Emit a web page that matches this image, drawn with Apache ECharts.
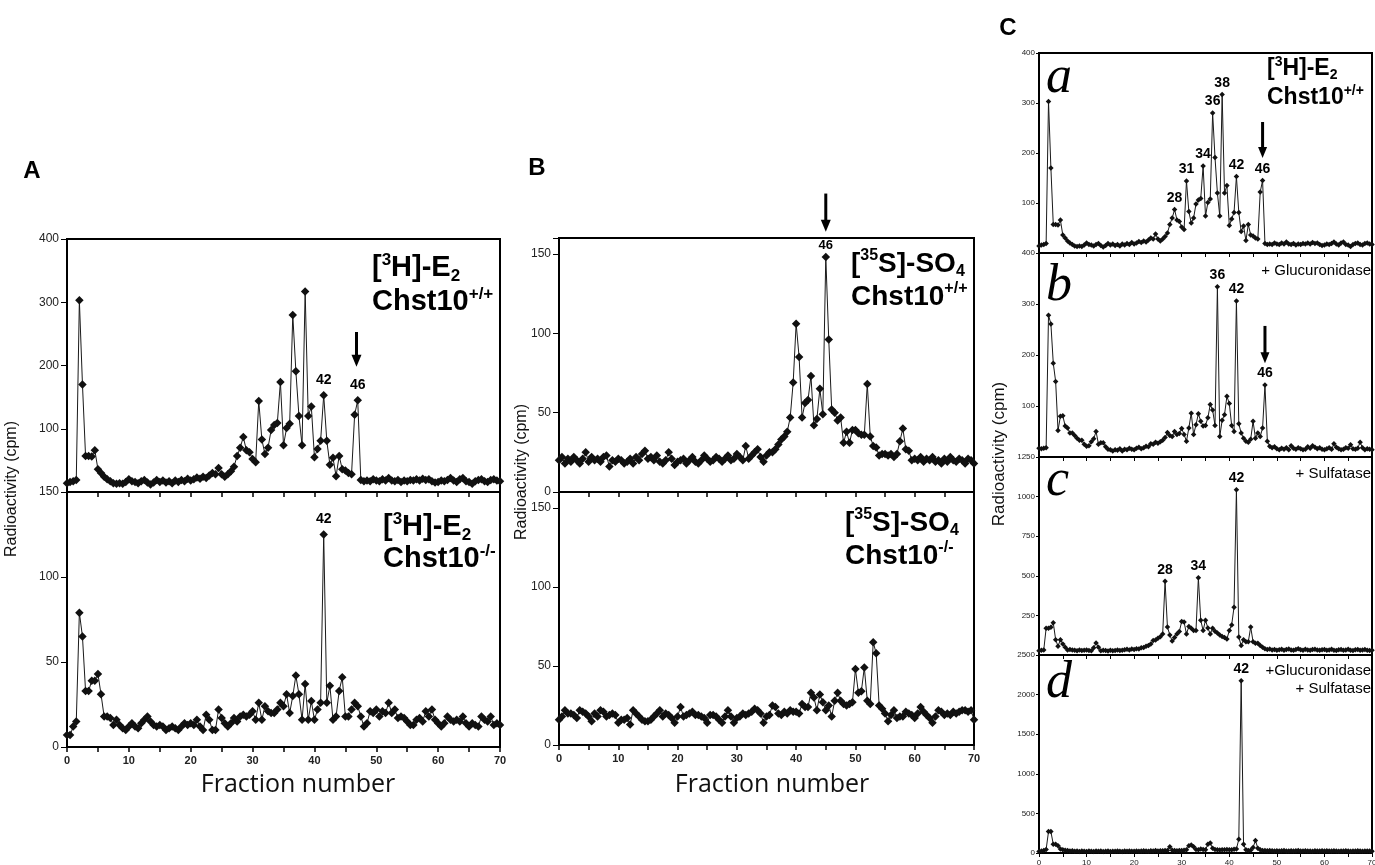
<!DOCTYPE html>
<html>
<head>
<meta charset="utf-8">
<script src="https://cdn.jsdelivr.net/npm/echarts@6/dist/echarts.min.js"></script>
<style>
html,body{margin:0;padding:0;background:#fff;}
#chart{width:1375px;height:865px;}
</style>
</head>
<body>
<div id="chart"></div>
<script>
// ---------- DATA ----------
const fractions = [
 0,0.5,1,1.5,2,2.5,3,3.5,4,4.5,5,5.5,6,6.5,7,7.5,8,8.5,9,9.5,
 10,10.5,11,11.5,12,12.5,13,13.5,14,14.5,15,15.5,16,16.5,17,17.5,18,18.5,19,19.5,
 20,20.5,21,21.5,22,22.5,23,23.5,24,24.5,25,25.5,26,26.5,27,27.5,28,28.5,29,29.5,
 30,30.5,31,31.5,32,32.5,33,33.5,34,34.5,35,35.5,36,36.5,37,37.5,38,38.5,39,39.5,
 40,40.5,41,41.5,42,42.5,43,43.5,44,44.5,45,45.5,46,46.5,47,47.5,48,48.5,49,49.5,
 50,50.5,51,51.5,52,52.5,53,53.5,54,54.5,55,55.5,56,56.5,57,57.5,58,58.5,59,59.5,
 60,60.5,61,61.5,62,62.5,63,63.5,64,64.5,65,65.5,66,66.5,67,67.5,68,68.5,69,69.5,
 70];

// A top / C a : [3H]-E2 Chst10+/+
const e2WildType = [
 14,16,17,19,303,170,57,57,56,66, 36,30,24,20,17,14,13,14,13,16,
 20,17,16,14,17,19,15,12,15,19, 16,18,15,17,14,18,16,19,17,21,
 18,20,23,21,24,22,26,30,28,38, 28,24,28,33,40,57,70,87,66,63,
 52,47,144,83,60,70,98,106,109,174, 74,101,108,280,191,120,74,317,120,135,
 55,68,81,153,81,43,54,25,57,36, 34,30,28,122,145,19,17,18,17,20,
 18,17,20,18,22,18,17,19,16,18, 17,19,18,20,18,21,19,20,17,15,
 16,18,17,19,22,18,16,20,22,17, 16,13,17,19,20,17,16,19,20,18,
 17];
// A bottom : [3H]-E2 Chst10-/-
const e2Knockout = [
 7,7,12,15,79,65,33,33,39,39, 43,31,18,18,17,13,16,13,11,10,
 12,14,12,11,14,16,18,15,13,12, 13,12,10,11,12,11,10,12,14,13,
 14,13,16,12,10,19,16,10,10,22, 17,14,12,14,17,15,18,19,18,19,
 21,16,26,16,24,21,20,20,22,26, 24,31,20,30,42,31,16,37,16,27,
 16,22,26,125,26,36,16,18,33,41, 18,18,22,26,24,18,12,14,21,20,
 22,18,21,20,26,20,22,17,18,17, 15,13,13,16,17,15,21,18,22,16,
 14,12,14,18,16,15,16,15,18,14, 12,14,13,12,18,16,15,18,13,14,
 13];
// B top : [35S]-SO4 Chst10+/+
const so4WildType = [
 20,22,18,21,19,22,20,18,21,25, 19,22,20,21,19,22,23,16,20,19,
 21,20,18,19,21,18,22,20,24,26, 21,22,20,23,19,18,20,25,21,17,
 19,20,21,18,20,22,19,18,20,23, 21,19,20,22,21,19,21,23,20,21,
 24,22,20,29,21,23,25,27,22,19, 23,25,25,27,30,33,35,38,47,69,
 106,85,47,56,58,73,42,46,65,49, 148,96,52,50,45,47,31,38,31,39,
 39,37,36,36,68,35,29,28,23,24, 24,23,24,22,24,32,40,27,26,20,
 21,20,22,19,21,20,22,19,20,18, 21,19,22,20,19,21,20,18,21,20,
 18];
// B bottom : [35S]-SO4 Chst10-/-
const so4Knockout = [
 16,18,22,20,20,19,17,22,21,20, 18,15,20,18,22,21,18,19,20,19,
 14,16,16,17,13,22,20,18,16,15, 15,16,18,20,22,18,20,19,17,14,
 18,24,18,19,20,21,19,19,18,17, 14,19,19,18,16,14,18,22,18,14,
 17,18,20,19,20,21,23,22,20,14, 18,19,25,24,20,19,21,20,22,21,
 21,20,26,24,24,33,30,22,32,27, 22,25,18,28,33,28,26,25,26,27,
 48,33,34,49,28,26,65,58,25,23, 20,15,19,22,17,18,18,21,20,19,
 17,20,24,21,19,17,14,18,22,21, 19,20,19,21,20,21,22,22,21,22,
 16];
// C b : + Glucuronidase
const glucuronidase = [
 17,16,17,18,278,261,184,148,52,80, 81,61,57,47,47,42,37,33,33,25,
 21,22,30,36,50,25,28,28,20,15, 14,12,14,13,16,12,15,14,17,15,
 14,17,19,16,18,21,20,26,25,29, 27,30,33,38,48,42,40,50,44,46,
 56,44,31,57,86,44,63,85,70,61, 62,77,103,92,62,334,40,72,83,119,
 105,62,50,306,65,47,37,31,29,35, 70,37,47,40,57,141,31,21,18,20,
 16,14,17,15,18,14,22,17,15,18, 16,14,15,20,17,22,19,16,18,15,
 14,16,18,15,26,19,16,14,15,18, 17,24,16,15,17,29,18,14,16,15,
 14];
// C c : + Sulfatase
const sulfatase = [
 27,30,32,169,169,175,203,97,55,97, 70,49,32,35,32,30,27,32,28,30,
 32,29,27,45,76,49,27,30,28,25, 30,27,29,32,28,30,33,36,32,38,
 35,40,38,45,48,55,60,70,91,95, 106,115,133,465,176,127,88,110,133,148,
 212,208,133,180,169,154,154,487,220,154, 220,170,133,169,150,139,127,117,110,101,
 154,190,302,1043,113,60,97,84,84,176, 84,74,74,60,49,40,35,38,32,35,
 30,33,36,30,34,38,32,30,35,40, 33,30,36,32,30,34,37,31,30,33,
 35,30,32,36,30,28,33,35,30,32, 36,30,28,33,35,30,32,34,30,28,
 30];
// C d : + Glucuronidase + Sulfatase
const glucSulf = [
 20,25,30,45,270,270,110,110,90,50, 40,35,30,25,28,22,25,20,24,22,
 20,25,22,20,26,22,24,20,22,25, 20,23,21,25,22,20,24,22,25,21,
 23,25,22,24,27,25,23,28,26,30, 25,28,27,32,30,80,35,30,28,33,
 30,35,40,90,100,80,45,40,50,45, 40,110,125,60,45,40,38,42,40,45,
 42,40,48,50,174,2175,110,40,30,35, 70,157,60,40,32,30,28,30,27,25,
 28,25,27,30,26,24,28,25,27,30, 26,25,28,24,26,23,27,25,24,28,
 25,27,24,26,28,25,23,26,24,27, 25,22,26,24,27,25,23,26,24,25,
 22];

// peak labels [fraction, value, text]
const peaksA1 = [[41.5,153,'42'],[47,145,'46']];
const peaksA2 = [[41.5,125,'42']];
const peaksB1 = [[45,148,'46']];
const peaksCa = [[28.5,87,'28'],[31,144,'31'],[34.5,174,'34'],[36.5,280,'36'],[38.5,317,'38'],[41.5,153,'42'],[47,145,'46']];
const peaksCb = [[37.5,334,'36'],[41.5,306,'42'],[47.5,141,'46']];
const peaksCc = [[26.5,465,'28'],[33.5,487,'34'],[41.5,1043,'42']];
const peaksCd = [[42.5,2175,'42']];
// arrows [gridIndex, fraction, fromValue, toValue]
const arrows = [[0, 46.8, 253, 198], [2, 45, 188, 164], [4, 47, 262, 190], [5, 47.5, 257, 184]];

// y-axis ranges [max, interval]
const yRanges = [[400,100],[150,50],[160,50],[160,50],[400,100],[400,100],[1250,250],[2500,500]];
const hideZero = [true,false,false,false,true,true,true,false];

// ---------- CHART ----------
const FONT = "'Liberation Sans', Arial, Helvetica, sans-serif";
const chart = echarts.init(document.getElementById('chart'), null, {renderer:'canvas'});

const grids = [
 {left:67, top:239, width:433, height:253},
 {left:67, top:492, width:433, height:255},
 {left:559, top:238, width:415, height:254},
 {left:559, top:492, width:415, height:253},
 {left:1039, top:53, width:333, height:200},
 {left:1039, top:253, width:333, height:204},
 {left:1039, top:457, width:333, height:198},
 {left:1039, top:655, width:333, height:198}
].map(g => Object.assign({show:true, borderColor:'#000', borderWidth:2, containLabel:false, outerBoundsMode:'none'}, g));

const small = i => i >= 4;
const showX = [false,true,false,true,false,false,false,true];

const xAxes = grids.map((g,i) => ({
  type:'value', gridIndex:i, min:0, max:70, interval:5,
  axisLine:{show:true, lineStyle:{color:'#000', width:2}},
  axisTick:{show:true, length: small(i)?4:5, lineStyle:{color:'#000', width: small(i)?1:1.5}},
  splitLine:{show:false},
  axisLabel:{show:showX[i], margin: small(i)?6:8, fontSize: small(i)?8:11, color:'#222', fontFamily:FONT, fontWeight: small(i)?'normal':'bold',
    formatter: v => (v % 10 === 0 ? String(v) : '')}
}));

const yAxes = grids.map((g,i) => ({
  type:'value', gridIndex:i, min:0, max:yRanges[i][0], interval:yRanges[i][1],
  axisLine:{show:true, lineStyle:{color:'#000', width:2}},
  axisTick:{show:true, length: small(i)?3:6, lineStyle:{color:'#000', width:1}},
  splitLine:{show:false},
  axisLabel:{show:true, margin: small(i)?4:8, fontSize: small(i)?8:12, color:'#222', fontFamily:FONT,
    formatter: v => {
      if (v % yRanges[i][1] !== 0) return '';
      if (v === 0 && hideZero[i]) return '';
      return String(v);
    }}
}));

const valueSets = [e2WildType, e2Knockout, so4WildType, so4Knockout, e2WildType, glucuronidase, sulfatase, glucSulf];
const peakSets = [peaksA1, peaksA2, peaksB1, [], peaksCa, peaksCb, peaksCc, peaksCd];

const series = valueSets.map((vals,i) => {
  const s = {
    type:'line', xAxisIndex:i, yAxisIndex:i,
    data: fractions.map((f,k) => [f, vals[k]]),
    symbol:'diamond', symbolSize: small(i)?5.5:8.5, showSymbol:true, showAllSymbol:true,
    lineStyle:{color:'#1a1a1a', width:1},
    itemStyle:{color:'#111'},
    silent:true, animation:false, z:2
  };
  if (peakSets[i].length) {
    s.markPoint = {
      symbol:'circle', symbolSize:1, silent:true, animation:false,
      itemStyle:{color:'rgba(0,0,0,0)'},
      label:{show:true, position:'top', distance: small(i)?4:(i===2?5:8), color:'#000', fontFamily:FONT, fontWeight:'bold', fontSize: i===2?13:14, formatter:'{b}'},
      data: peakSets[i].map(p => ({name:p[2], coord:[p[0], p[1]]}))
    };
  }
  return s;
});

// rich text helper styles
function richSet(big, sup){
  return {
    b:{fontSize:big, fontWeight:'bold', fontFamily:FONT, fill:'#000', lineHeight:big+4},
    sup:{fontSize:sup, fontWeight:'bold', fontFamily:FONT, fill:'#000', lineHeight:sup-4, verticalAlign:'top'},
    sub:{fontSize:sup, fontWeight:'bold', fontFamily:FONT, fill:'#000', lineHeight:sup-4, verticalAlign:'bottom'}
  };
}
function label2(x, y1, y2, line1, line2, big, sup){
  return [
    {type:'text', x:x, y:y1, silent:true, style:{text:line1, rich:richSet(big,sup), align:'left', verticalAlign:'middle'}},
    {type:'text', x:x, y:y2, silent:true, style:{text:line2, rich:richSet(big,sup), align:'left', verticalAlign:'middle'}}
  ];
}
const E2 = '{b|[}{sup|3}{b|H]-E}{sub|2}';
const SO4 = '{b|[}{sup|35}{b|S]-SO}{sub|4}';
const WT = '{b|Chst10}{sup|+/+}';
const KO = '{b|Chst10}{sup|-/-}';

const plain = (x,y,text,opts) => ({type:'text', x:x, y:y, silent:true,
  style:Object.assign({text:text, fill:'#000', fontFamily:FONT, fontSize:15, align:'left', verticalAlign:'middle'}, opts||{})});
const italic = (x,y,t) => plain(x,y,t,{fontFamily:"'Liberation Serif', 'Times New Roman', serif", fontStyle:'italic', fontSize:52});

const baseGraphic = [].concat(
  label2(372, 268, 302, E2, WT, 29, 17),
  label2(383, 527, 559, E2, KO, 29, 17),
  label2(851, 264, 297, SO4, WT, 28, 16),
  label2(845, 523, 556, SO4, KO, 28, 16),
  label2(1267, 69, 98, E2, WT, 23, 14),
  [
    plain(1371, 271, '+ Glucuronidase', {align:'right'}),
    plain(1371, 474, '+ Sulfatase', {align:'right'}),
    plain(1371, 671, '+Glucuronidase', {align:'right'}),
    plain(1371, 689, '+ Sulfatase', {align:'right'}),
    italic(1046, 78, 'a'),
    italic(1046, 286, 'b'),
    italic(1046, 481, 'c'),
    italic(1046, 683, 'd'),
    plain(32, 171, 'A', {fontSize:24, fontWeight:'bold', align:'center'}),
    plain(537, 168, 'B', {fontSize:24, fontWeight:'bold', align:'center'}),
    plain(1008, 28, 'C', {fontSize:24, fontWeight:'bold', align:'center'}),
    plain(298, 785, 'Fraction number', {fontFamily:"'Open Sans', sans-serif", fontSize:25, align:'center', fill:'#111'}),
    plain(772, 785, 'Fraction number', {fontFamily:"'Open Sans', sans-serif", fontSize:25, align:'center', fill:'#111'}),
    {type:'text', x:12, y:489, rotation:Math.PI/2, silent:true, style:{text:'Radioactivity (cpm)', fill:'#111', fontFamily:FONT, fontSize:16, align:'center', verticalAlign:'middle'}},
    {type:'text', x:522, y:472, rotation:Math.PI/2, silent:true, style:{text:'Radioactivity (cpm)', fill:'#111', fontFamily:FONT, fontSize:16, align:'center', verticalAlign:'middle'}},
    {type:'text', x:999, y:454, rotation:Math.PI/2, silent:true, style:{text:'Radioactivity (cpm)', fill:'#111', fontFamily:FONT, fontSize:17, align:'center', verticalAlign:'middle'}}
  ]
);

chart.setOption({
  animation:false,
  backgroundColor:'#fff',
  grid:grids, xAxis:xAxes, yAxis:yAxes, series:series, graphic:baseGraphic
});

// arrows positioned through the axes' own scales
const arrowGraphic = [];
arrows.forEach(a => {
  const p1 = chart.convertToPixel({gridIndex:a[0]}, [a[1], a[2]]);
  const p2 = chart.convertToPixel({gridIndex:a[0]}, [a[1], a[3]]);
  const big = a[0] < 4;
  const head = big ? 12 : 11, half = big ? 5 : 4.5;
  arrowGraphic.push({type:'line', silent:true, shape:{x1:p1[0], y1:p1[1], x2:p2[0], y2:p2[1]-head+2}, style:{stroke:'#000', lineWidth:3}});
  arrowGraphic.push({type:'polygon', silent:true, shape:{points:[[p2[0]-half, p2[1]-head],[p2[0]+half, p2[1]-head],[p2[0], p2[1]]]}, style:{fill:'#000'}});
});
chart.setOption({graphic: baseGraphic.concat(arrowGraphic)});
</script>
</body>
</html>
